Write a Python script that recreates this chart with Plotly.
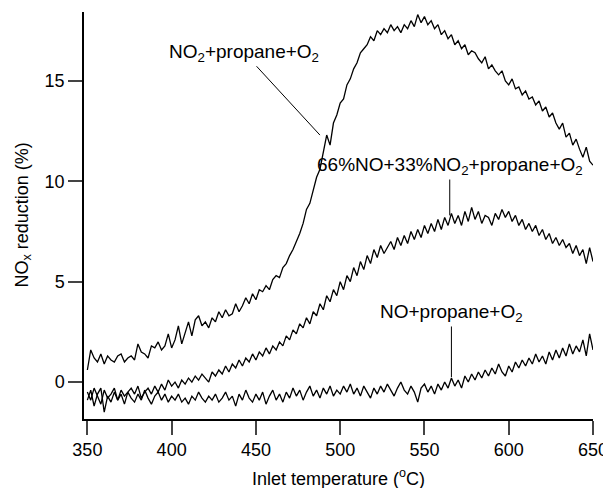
import plotly.graph_objects as go

temps = list(range(350, 651, 2))

no2_propane = [
    0.6, 1.6, 1.2, 1.0, 1.4, 0.9, 1.3, 1.1, 1.0, 1.3,
    1.4, 1.0, 1.2, 1.3, 1.1, 1.9, 1.5, 1.4, 1.2, 1.8,
    1.7, 2.0, 1.6, 1.8, 2.4, 1.7, 2.1, 2.8, 1.9, 2.5,
    3.0, 2.3, 3.1, 3.3, 2.8, 3.0, 2.7, 3.2, 3.0, 3.5,
    3.2, 3.6, 3.3, 3.4, 3.9, 3.5, 3.8, 4.2, 3.9, 4.4,
    4.1, 4.6, 4.5, 4.8, 4.6, 5.1, 5.3, 5.2, 5.7, 5.9,
    6.3, 6.6, 7.0, 7.4, 7.9, 8.6, 8.9, 9.6, 10.2, 10.6,
    11.5, 12.3, 11.8, 12.9, 13.3, 13.9, 14.1, 14.8, 15.1, 15.6,
    15.9, 16.4, 16.6, 16.8, 17.2, 17.0, 17.5, 17.3, 17.6, 17.4,
    17.8, 17.5, 17.7, 17.4, 17.8, 17.6, 18.0, 17.7, 18.3, 17.9,
    18.2, 17.8, 18.0, 17.6, 17.8, 17.3, 17.5, 17.1, 17.3, 16.8,
    17.0, 16.6, 16.8, 16.3, 16.5, 16.4, 16.1, 15.9, 16.2, 15.6,
    15.8, 15.5, 15.3, 15.5, 15.0, 14.8, 15.1, 14.6, 14.7, 14.3,
    14.5, 14.1, 14.2, 13.8, 14.0, 13.5, 13.7, 13.2, 13.4, 12.9,
    12.6, 12.9, 12.2, 12.4, 11.8, 12.1, 11.6, 11.2, 11.7, 11.0, 10.8,
]

mix_propane = [
    -0.5, -0.9, -0.3, -0.7, -1.1, -0.4, -0.8, -0.6, -0.3, -0.9,
    -0.4, -0.7, -0.5, -0.3, -0.6, -0.2, -0.8, -0.5, -0.3, -0.6,
    -0.2, -0.5, -0.1, -0.4, 0.1, -0.2, 0.0, -0.3, 0.1, -0.1,
    0.2, 0.0, 0.3, 0.1, 0.4, 0.2, 0.0, 0.5, 0.3, 0.6,
    0.4, 0.8, 0.5, 0.9, 0.7, 1.1, 0.8, 1.2, 1.0, 1.4,
    1.1, 1.5, 1.3, 1.7, 1.4, 1.8, 1.6, 2.0, 1.8, 2.3,
    2.1, 2.6, 2.4, 2.9, 2.7, 3.2, 2.9, 3.5, 3.3, 3.9,
    3.6, 4.3, 4.0, 4.6, 4.3, 5.0, 4.6, 5.3, 5.0, 5.7,
    5.3, 6.0, 5.6, 6.3, 5.9, 6.6, 6.2, 6.8, 6.4, 6.7,
    7.0, 6.6, 7.2, 6.8, 7.3, 6.9, 7.5, 7.1, 7.6, 7.2,
    7.8, 7.4, 7.9, 7.5, 8.1, 7.6, 8.2, 7.8, 8.4, 7.9,
    8.3, 7.8, 8.5, 8.0, 8.7, 8.1, 8.5, 7.9, 8.3, 8.2,
    7.8, 8.4, 8.1, 8.6, 8.2, 8.5, 8.0, 8.3, 7.8, 8.1,
    7.6, 7.9, 7.5, 7.8, 7.3, 7.6, 7.1, 7.4, 6.9, 7.2,
    6.8, 7.1, 6.7, 6.9, 6.4, 6.8, 6.3, 6.6, 5.9, 6.7, 6.0,
]

no_propane = [
    -0.9, -0.4, -1.2, -0.6, -0.3, -1.5, -0.7, -1.0, -0.5, -0.9,
    -0.6, -1.1, -0.5, -0.8, -1.0, -0.6, -0.9, -0.4, -0.8, -1.1,
    -0.7, -0.5, -0.9, -0.6, -1.0, -0.7, -0.9, -0.6, -1.0, -0.8,
    -1.1, -0.7, -0.9, -0.5, -0.8, -1.0, -0.7, -0.9, -0.6, -1.0,
    -0.8, -0.5, -0.9, -0.7, -1.2, -0.6, -0.9, -0.4, -0.8, -1.0,
    -0.6, -0.9, -0.5, -1.1, -0.7, -0.4, -0.9, -0.6, -1.0, -0.5,
    -0.8, -0.3, -0.7, -0.4, -0.9, -0.5, -0.2, -0.7, -0.4, -0.8,
    -0.3, -0.6, -0.2, -0.7, -0.4, -0.6, -0.2, -0.5, -0.1, -0.6,
    -0.3, -0.7, -0.2, -0.5, -0.8, -0.3, -0.6, -0.2, -0.5, -0.1,
    -0.4, -0.7, -0.3, 0.0, -0.4, -0.6, -0.2, -0.5, -1.0, -0.3,
    -0.1, -0.5, -0.2, -0.6, -0.1, -0.4, 0.0, -0.3, 0.2, -0.2,
    0.1, -0.3, 0.3, 0.0, 0.4, 0.1, 0.5, 0.2, 0.6, 0.3,
    0.7, 0.4, 0.9, 0.5, 0.3, 0.8, 0.5, 1.0, 0.7, 1.1,
    0.8, 1.2, 0.9, 1.4, 1.0, 1.3, 0.9, 1.5, 1.1, 1.6,
    1.2, 1.7, 1.3, 1.9, 1.4, 1.8, 1.5, 2.1, 1.3, 2.4, 1.6,
]

x_ticks = [350, 400, 450, 500, 550, 600, 650]
y_ticks = [0, 5, 10, 15]
x_title = "Inlet temperature (<sup>o</sup>C)"
y_title = "NO<sub>x</sub> reduction (%)"

FONT = "Liberation Sans, Arial, sans-serif"

fig = go.Figure()
for ys in (no2_propane, mix_propane, no_propane):
    fig.add_trace(go.Scatter(x=temps, y=ys, mode="lines",
                             line=dict(color="black", width=1.3),
                             showlegend=False, hoverinfo="skip"))

ann_font = dict(size=19, color="black", family=FONT)
fig.add_annotation(x=488, y=12.3, ax=443, ay=16.4, axref="x", ayref="y",
                   text="NO<sub>2</sub>+propane+O<sub>2</sub>",
                   showarrow=True, arrowhead=0, arrowwidth=1, arrowcolor="black",
                   font=ann_font)
fig.add_annotation(x=565, y=8.3, ax=565, ay=10.76, axref="x", ayref="y",
                   text="66%NO+33%NO<sub>2</sub>+propane+O<sub>2</sub>",
                   showarrow=True, arrowhead=0, arrowwidth=1, arrowcolor="black",
                   font=ann_font)
fig.add_annotation(x=566, y=0.25, ax=566, ay=3.44, axref="x", ayref="y",
                   text="NO+propane+O<sub>2</sub>",
                   showarrow=True, arrowhead=0, arrowwidth=1, arrowcolor="black",
                   font=ann_font)

# axis titles
fig.add_annotation(xref="paper", yref="paper", x=0.5, y=0, xanchor="center",
                   yanchor="middle", yshift=-58, showarrow=False, text=x_title,
                   font=dict(size=18, color="black", family=FONT))
fig.add_annotation(xref="paper", yref="paper", x=0, y=0.5, xanchor="center",
                   yanchor="middle", xshift=-61, textangle=-90, showarrow=False,
                   text=y_title, font=dict(size=18, color="black", family=FONT))

fig.update_layout(
    width=603, height=480,
    margin=dict(l=76, r=18, t=4, b=69),
    paper_bgcolor="white", plot_bgcolor="white",
    font=dict(family=FONT, size=17, color="black"),
    xaxis=dict(range=[348, 650], tickvals=x_ticks, ticks="outside", ticklen=14,
               tickwidth=1.5, showline=True, linewidth=1.5, linecolor="black",
               showgrid=False, zeroline=False, automargin=False,
               ticklabeloverflow="allow", tickfont=dict(size=18)),
    yaxis=dict(range=[-1.84, 18.43], tickvals=y_ticks, ticks="outside", ticklen=14,
               tickwidth=1.5, showline=True, linewidth=1.5, linecolor="black",
               showgrid=False, zeroline=False, automargin=False,
               tickfont=dict(size=18)),
)

fig.write_html("out.html")
